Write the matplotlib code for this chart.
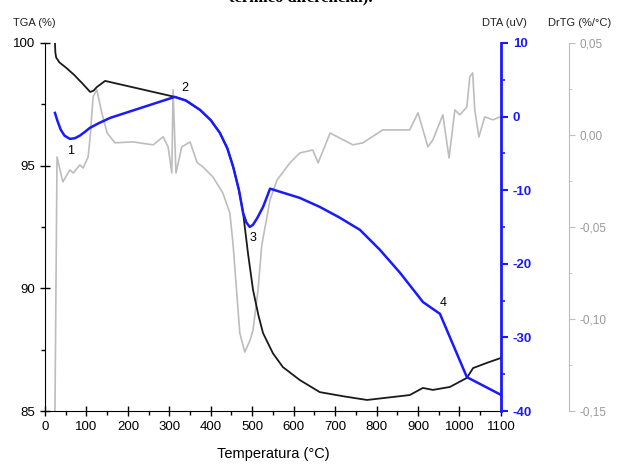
import matplotlib.pyplot as plt
from matplotlib.ticker import MultipleLocator, FixedLocator, FuncFormatter

plt.rcParams['font.family'] = ['Liberation Sans', 'DejaVu Sans']
plt.rcParams['axes.unicode_minus'] = False

# TGA (%) - curva preta
t_tga = [24, 25, 27, 35, 50, 70, 90, 109, 117, 125, 145, 313, 340, 374, 400,
         422, 440, 454, 468, 478, 490, 502, 515, 526, 550, 574, 615, 663, 720,
         777, 880, 912, 936, 977, 1018, 1033, 1066, 1100]
tga = [100.0, 99.6, 99.4, 99.2, 99.0, 98.7, 98.35, 98.0, 98.05, 98.2, 98.45,
       97.8, 97.65, 97.27, 96.85, 96.33, 95.7, 94.95, 94.0, 93.07, 91.4, 89.93,
       88.9, 88.18, 87.35, 86.79, 86.26, 85.77, 85.6, 85.45, 85.65, 85.94,
       85.86, 85.98, 86.35, 86.75, 86.96, 87.16]

# DTA (uV) - curva azul
t_dta = [24, 30, 38, 47, 60, 72, 84, 96, 108, 130, 157, 313, 340, 374, 400,
         422, 440, 454, 468, 478, 486, 494, 502, 512, 526, 535, 543, 615, 663,
         710, 760, 808, 857, 912, 935, 953, 1018, 1100]
dta = [0.49, -0.6, -1.8, -2.6, -3.04, -2.95, -2.6, -2.1, -1.55, -0.9, -0.19,
       2.66, 2.17, 0.9, -0.5, -2.23, -4.33, -6.83, -10.0, -13.1, -14.4, -15.0,
       -14.7, -13.8, -12.3, -11.0, -9.8, -11.06, -12.28, -13.7, -15.4, -18.1,
       -21.25, -25.2, -26.1, -26.8, -35.4, -37.8]

# DrTG (%/°C) - curva cinza
t_drtg = [24, 29, 43, 60, 68, 84, 92, 104, 109, 116, 125, 137, 150, 169, 212,
          261, 285, 297, 306, 309, 316, 330, 350, 367, 381, 405, 429, 446, 454,
          470, 482, 495, 502, 514, 523, 543, 560, 591, 615, 646, 659, 688, 743,
          767, 815, 880, 900, 924, 936, 960, 975, 989, 1001, 1018, 1025, 1032,
          1037, 1047, 1061, 1081, 1098]
drtg = [-0.150, -0.012, -0.0255, -0.019, -0.0207, -0.0163, -0.018, -0.012,
        -0.001, 0.0207, 0.0245, 0.012, 0.001, -0.0043, -0.0038, -0.0054,
        -0.001, -0.0065, -0.0207, 0.0245, -0.0207, -0.0065, -0.0038, -0.015,
        -0.0174, -0.0228, -0.0315, -0.0424, -0.060, -0.1076, -0.118, -0.1114,
        -0.106, -0.0842, -0.060, -0.0353, -0.0245, -0.0152, -0.0098, -0.0082,
        -0.0152, 0.001, -0.0054, -0.0043, 0.0027, 0.0027, 0.012, -0.0065,
        -0.0027, 0.0109, -0.0125, 0.0136, 0.0109, 0.0152, 0.0315, 0.0337,
        0.0136, -0.0011, 0.0098, 0.0082, 0.0098]

drtg_ticks = [0.05, 0.0, -0.05, -0.10, -0.15]

fig = plt.figure(figsize=(6.34, 4.66), dpi=100)
ax = fig.add_axes([0.071, 0.118, 0.719, 0.790])
ax_dta = ax.twinx()
ax_dr = ax.twinx()

blue = '#1a1aff'
gray = '#bdbdbd'

ax_dr.plot(t_drtg, drtg, color=gray, lw=1.2, zorder=1)
ax.plot(t_tga, tga, color='#1a1a1a', lw=1.3, zorder=3)
ax_dta.plot(t_dta, dta, color=blue, lw=1.8, zorder=4)

# eixo principal
ax.set_xlim(0, 1100)
ax.set_ylim(85, 100)
ax.spines['top'].set_visible(False)
ax.spines['right'].set_visible(False)
ax.xaxis.set_major_locator(MultipleLocator(100))
ax.xaxis.set_minor_locator(MultipleLocator(50))
ax.yaxis.set_major_locator(MultipleLocator(5))
ax.yaxis.set_minor_locator(MultipleLocator(2.5))
ax.tick_params(which='major', direction='inout', length=7, width=1, labelsize=9.5)
ax.tick_params(which='minor', direction='out', length=3, width=1)
ax.set_xlabel('Temperatura (°C)', fontsize=10.5, labelpad=10)
ax.patch.set_visible(False)
ax.set_zorder(3)
ax_dta.set_zorder(4)
ax_dr.set_zorder(1)

# eixo DTA
ax_dta.set_ylim(-40, 10)
for s in ['top', 'left', 'bottom']:
    ax_dta.spines[s].set_visible(False)
ax_dta.spines['right'].set_color(blue)
ax_dta.spines['right'].set_linewidth(2)
ax_dta.yaxis.set_major_locator(MultipleLocator(10))
ax_dta.yaxis.set_minor_locator(MultipleLocator(5))
ax_dta.tick_params(axis='y', which='major', colors=blue, length=5, width=1.5,
                   labelsize=9.5)
ax_dta.tick_params(axis='y', which='minor', colors=blue, length=3, width=1.2)
for lb in ax_dta.get_yticklabels():
    lb.set_fontweight('bold')
ax_dta.patch.set_visible(False)

# eixo DrTG
ax_dr.set_ylim(-0.15, 0.05)
for s in ['top', 'left', 'bottom']:
    ax_dr.spines[s].set_visible(False)
ax_dr.spines['right'].set_position(('axes', 1.149))
ax_dr.spines['right'].set_color(gray)
ax_dr.yaxis.set_major_locator(FixedLocator(drtg_ticks))
ax_dr.yaxis.set_minor_locator(MultipleLocator(0.025))
ax_dr.yaxis.set_major_formatter(FuncFormatter(lambda v, p: f'{v:.2f}'.replace('.', ',')))
ax_dr.tick_params(axis='y', which='major', colors=gray, length=4, labelsize=8.5,
                  labelcolor='#9a9a9a')
ax_dr.tick_params(axis='y', which='minor', colors=gray, length=2.5)

# titulos dos eixos
fig.text(13 / 634, 1 - 23 / 466, 'TGA (%)', fontsize=8, va='center', color='#222222')
fig.text(482 / 634, 1 - 23 / 466, 'DTA (uV)', fontsize=8, va='center', color='#222222')
fig.text(548 / 634, 1 - 23 / 466, 'DrTG (%/°C)', fontsize=8, va='center', color='#222222')

# numeros dos eventos
ax.text(62, 95.6, '1', fontsize=9, ha='center', va='center')
ax.text(338, 98.17, '2', fontsize=9, ha='center', va='center')
ax.text(502, 92.05, '3', fontsize=9, ha='center', va='center')
ax.text(960, 89.4, '4', fontsize=9, ha='center', va='center')

# legenda cortada no topo
fig.text(0.475, 1 - 1.5 / 466, 'térmico diferencial).', fontsize=12,
         family='Liberation Serif', weight='bold', ha='center', va='baseline')

fig.savefig('out.png', dpi=100)
